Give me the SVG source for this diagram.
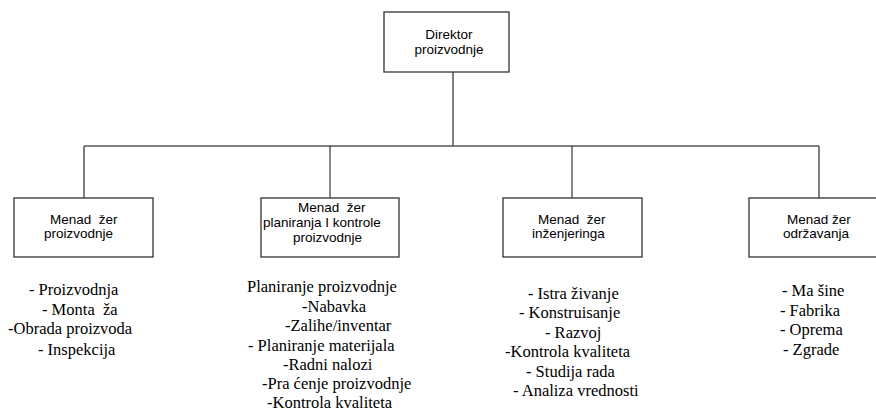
<svg xmlns="http://www.w3.org/2000/svg" width="876" height="416" viewBox="0 0 876 416">
  <style>
    .box { fill: #ffffff; stroke: #333333; stroke-width: 1.3; }
    .conn { fill: none; stroke: #555555; stroke-width: 1.5; }
    .thin { fill: none; stroke: #111111; stroke-width: 1; }
    .lbl { font-family: "Liberation Sans", Arial, sans-serif; font-size: 13.5px; fill: #000000; white-space: pre; }
    .lst { font-family: "Liberation Serif", "Times New Roman", serif; font-size: 16.5px; fill: #000000; white-space: pre; }
  </style>

  <!-- connectors -->
  <g id="connectors">
    <line class="conn" x1="453" y1="72" x2="453" y2="146"/>
    <line class="conn" x1="84" y1="146" x2="819" y2="146"/>
    <line class="conn" x1="84" y1="146" x2="84" y2="198"/>
    <line class="thin" x1="330" y1="146" x2="330" y2="198"/>
    <line class="thin" x1="572" y1="146" x2="572" y2="198"/>
    <line class="conn" x1="819" y1="146" x2="819" y2="198"/>
  </g>

  <!-- top node -->
  <g id="direktor">
    <rect class="box" x="384" y="12" width="125" height="60"/>
    <text class="lbl" x="449" y="39" text-anchor="middle">Direktor</text>
    <text class="lbl" x="449" y="54" text-anchor="middle">proizvodnje</text>
  </g>

  <!-- manager nodes -->
  <g id="menadzer-proizvodnje">
    <rect class="box" x="14" y="198" width="139" height="59"/>
    <text class="lbl" x="50" y="224">Menad  žer</text>
    <text class="lbl" x="44" y="238">proizvodnje</text>
  </g>

  <g id="menadzer-planiranja">
    <rect class="box" x="261" y="198" width="138" height="59"/>
    <text class="lbl" x="298" y="212">Menad  žer</text>
    <text class="lbl" x="263" y="227">planiranja I kontrole</text>
    <text class="lbl" x="293" y="242">proizvodnje</text>
  </g>

  <g id="menadzer-inzenjeringa">
    <rect class="box" x="503" y="198" width="139" height="59"/>
    <text class="lbl" x="538" y="224">Menad  žer</text>
    <text class="lbl" x="532" y="238">inženjeringa</text>
  </g>

  <g id="menadzer-odrzavanja">
    <rect class="box" x="749" y="198" width="140" height="59"/>
    <text class="lbl" x="787" y="224">Menad žer</text>
    <text class="lbl" x="783" y="238">održavanja</text>
  </g>

  <!-- task lists under each manager -->
  <g id="lista-proizvodnja">
    <text class="lst" x="29" y="295">- Proizvodnja</text>
    <text class="lst" x="42" y="315">- Monta  ža</text>
    <text class="lst" x="8" y="334">-Obrada proizvoda</text>
    <text class="lst" x="38" y="355">- Inspekcija</text>
  </g>

  <g id="lista-planiranje">
    <text class="lst" x="247" y="292">Planiranje proizvodnje</text>
    <text class="lst" x="302" y="312">-Nabavka</text>
    <text class="lst" x="285" y="331">-Zalihe/inventar</text>
    <text class="lst" x="248" y="351">- Planiranje materijala</text>
    <text class="lst" x="283" y="370">-Radni nalozi</text>
    <text class="lst" x="262" y="389">-Pra ćenje proizvodnje</text>
    <text class="lst" x="267" y="408">-Kontrola kvaliteta</text>
  </g>

  <g id="lista-inzenjering">
    <text class="lst" x="528" y="299">- Istra živanje</text>
    <text class="lst" x="519" y="318">- Konstruisanje</text>
    <text class="lst" x="545" y="338">- Razvoj</text>
    <text class="lst" x="505" y="357">-Kontrola kvaliteta</text>
    <text class="lst" x="526" y="377">- Studija rada</text>
    <text class="lst" x="513" y="396">- Analiza vrednosti</text>
  </g>

  <g id="lista-odrzavanje">
    <text class="lst" x="782" y="296">- Ma šine</text>
    <text class="lst" x="780" y="316">- Fabrika</text>
    <text class="lst" x="780" y="335">- Oprema</text>
    <text class="lst" x="783" y="355">- Zgrade</text>
  </g>
</svg>
